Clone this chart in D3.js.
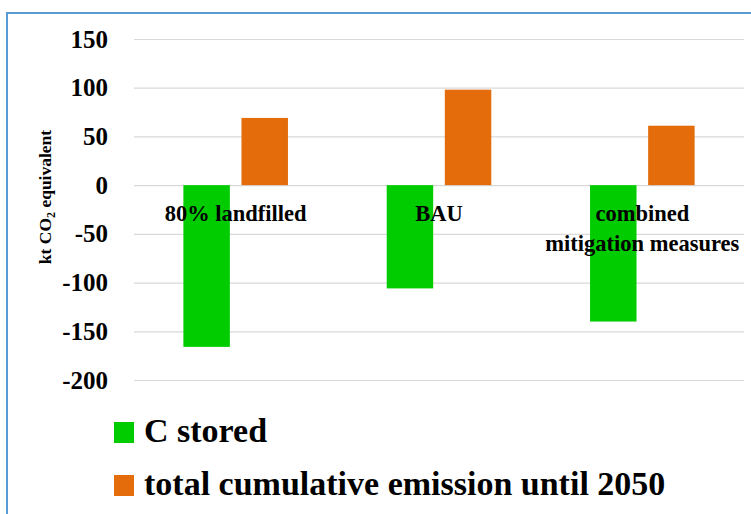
<!DOCTYPE html>
<html>
<head>
<meta charset="utf-8">
<script src="https://cdn.jsdelivr.net/npm/d3@7"></script>
<style>
  body { margin: 0; background: #fff; }
  text { font-family: "Liberation Serif", "DejaVu Serif", serif; font-weight: bold; fill: #000; }
</style>
</head>
<body>
<svg id="chart" width="751" height="514"></svg>
<script>
// data
const categories = ["80% landfilled", "BAU", "combined mitigation measures"];
const seriesNames = ["C stored", "total cumulative emission until 2050"];
const cStored = [-166, -106, -140];
const totalEmission = [69, 98, 61];
const yTicks = [150, 100, 50, 0, -50, -100, -150, -200];
const colors = ["#00cc00", "#e46c0a"];

// category labels wrap like in the original
const labelLines = {
  "80% landfilled": ["80% landfilled"],
  "BAU": ["BAU"],
  "combined mitigation measures": ["combined", "mitigation measures"]
};

const svg = d3.select("#chart");

// blue frame (left + top edge only visible)
svg.append("path")
  .attr("d", "M7,514 V13 H751")
  .attr("fill", "none")
  .attr("stroke", "#5b9bd5")
  .attr("stroke-width", 2);

const plot = { left: 134, right: 744, top: 39, bottom: 380 };

const y = d3.scaleLinear()
  .domain([-200, 150])
  .range([plot.bottom, plot.top]);

const x0 = d3.scaleBand()
  .domain(categories)
  .range([plot.left, plot.right]);

const x1 = d3.scaleBand()
  .domain(seriesNames)
  .range([0, x0.bandwidth()])
  .paddingInner(0.2)
  .paddingOuter(0.85);

// gridlines
const grid = svg.append("g")
  .attr("transform", `translate(${plot.left},0)`)
  .call(d3.axisLeft(y).tickValues(yTicks).tickSize(-(plot.right - plot.left)).tickFormat(""));
grid.select(".domain").remove();
grid.selectAll("line").attr("stroke", "#d9d9d9").attr("stroke-width", 1.2);

// y tick labels (plain hyphen as in the original)
const yAxis = svg.append("g")
  .attr("transform", `translate(${plot.left},0)`)
  .call(d3.axisLeft(y).tickValues(yTicks).tickSize(0).tickPadding(26).tickFormat(d => String(d)));
yAxis.attr("font-family", null).attr("font-size", null);
yAxis.select(".domain").remove();
yAxis.selectAll("text")
  .style("font-size", "25px");

// bars
const rows = categories.map((c, i) => ({ cat: c, values: [cStored[i], totalEmission[i]] }));
const groups = svg.append("g").selectAll("g")
  .data(rows)
  .join("g")
  .attr("transform", d => `translate(${x0(d.cat)},0)`);

groups.selectAll("rect")
  .data(d => d.values.map((v, j) => ({ key: seriesNames[j], value: v, color: colors[j] })))
  .join("rect")
  .attr("x", d => x1(d.key))
  .attr("width", x1.bandwidth())
  .attr("y", d => y(Math.max(0, d.value)))
  .attr("height", d => Math.abs(y(d.value) - y(0)))
  .attr("fill", d => d.color);

// category labels, sitting just under the zero line
const catLabels = svg.append("g").selectAll("text")
  .data(categories)
  .join("text")
  .attr("text-anchor", "middle")
  .style("font-size", "22.5px")
  .attr("x", d => x0(d) + x0.bandwidth() / 2)
  .attr("y", 221);
catLabels.selectAll("tspan")
  .data(d => labelLines[d].map(t => ({ t, x: x0(d) + x0.bandwidth() / 2 })))
  .join("tspan")
  .attr("x", d => d.x)
  .attr("dy", (d, i) => i === 0 ? 0 : 30)
  .text(d => d.t);

// y axis title
const yTitle = svg.append("text")
  .attr("transform", "translate(51,197) rotate(-90)")
  .attr("text-anchor", "middle")
  .style("font-size", "17.5px");
yTitle.append("tspan").text("kt CO");
yTitle.append("tspan").attr("dy", 4).style("font-size", "12px").text("2");
yTitle.append("tspan").attr("dy", -4).text(" equivalent");

// legend
const legend = svg.append("g").selectAll("g")
  .data(seriesNames)
  .join("g")
  .attr("transform", (d, i) => `translate(114,${422 + i * 53})`);
legend.append("rect")
  .attr("width", 20)
  .attr("height", 21)
  .attr("fill", (d, i) => colors[i]);
legend.append("text")
  .attr("x", 30)
  .attr("y", 20)
  .style("font-size", "34px")
  .text(d => d);
</script>
</body>
</html>
